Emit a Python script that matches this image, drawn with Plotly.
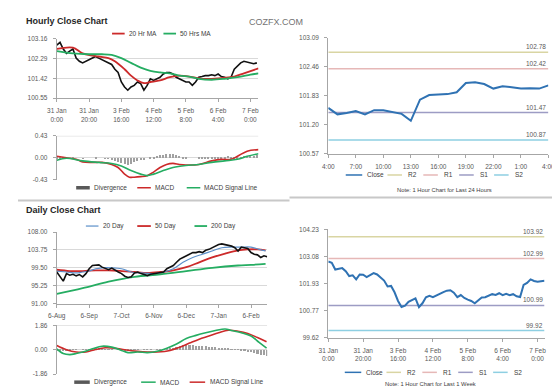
import plotly.graph_objects as go

W, H = 560, 386
FONT = "Liberation Sans, Arial, sans-serif"
TICK = "#595959"
GRID = "#d9d9d9"
AX = "#a6a6a6"

# ---------------- data: hourly (top-left) ----------------
hourly_ticks = [0, 20, 40, 60, 80, 100, 120]
hourly_labels = ["31 Jan<br>0:00", "31 Jan<br>20:00", "3 Feb<br>16:00", "4 Feb<br>12:00",
                 "5 Feb<br>8:00", "6 Feb<br>4:00", "7 Feb<br>0:00"]
hourly_hours = list(range(0, 125, 2))
hourly_close = [102.88, 103.00, 102.71, 102.52, 102.62, 102.71, 102.31, 102.17, 102.10, 102.17,
                102.24, 102.31, 102.38, 102.31, 102.24, 102.17, 102.10, 102.03, 101.82, 101.68,
                101.26, 101.04, 100.90, 101.04, 101.11, 101.26, 101.19, 100.90, 101.11, 101.40,
                101.33, 101.40, 101.47, 101.61, 101.68, 101.68, 101.61, 101.47, 101.40, 101.33,
                101.26, 101.26, 101.11, 101.26, 101.47, 101.50, 101.54, 101.54, 101.58, 101.54,
                101.61, 101.50, 101.47, 101.40, 101.47, 101.82, 101.96, 102.10, 102.17, 102.14,
                102.10, 102.06, 102.10]
ma20_hours = [0, 10, 16, 26, 32, 36, 42, 46, 50, 54, 58, 64, 70, 76, 84, 90, 96, 104, 110, 116, 125]
ma20_vals = [102.71, 102.77, 102.52, 102.38, 102.31, 102.17, 101.82, 101.54, 101.33, 101.21, 101.26,
             101.33, 101.47, 101.54, 101.47, 101.40, 101.40, 101.44, 101.50, 101.64, 101.86]
ma50_hours = [0, 10, 20, 28, 34, 40, 46, 52, 58, 64, 70, 76, 82, 88, 96, 104, 112, 120, 125]
ma50_vals = [102.62, 102.52, 102.48, 102.48, 102.45, 102.31, 102.10, 101.89, 101.75, 101.68, 101.64,
             101.54, 101.50, 101.40, 101.36, 101.40, 101.47, 101.58, 101.64]
hourly_yticks = [100.55, 101.42, 102.29, 103.16]

# hourly MACD
hmacd_hours = [0, 6, 12, 16, 22, 28, 34, 38, 42, 45, 48, 52, 56, 60, 64, 68, 72, 76, 80, 88, 96, 102,
               108, 112, 118, 125]
hmacd_vals = [0.03, 0.00, -0.03, -0.08, -0.09, -0.09, -0.13, -0.19, -0.32, -0.38, -0.38, -0.37, -0.35,
              -0.28, -0.19, -0.13, -0.11, -0.13, -0.14, -0.13, -0.06, -0.03, -0.03, 0.03, 0.13, 0.16]
hsig_hours = [0, 6, 16, 26, 34, 40, 46, 52, 56, 60, 66, 72, 80, 88, 96, 104, 112, 118, 125]
hsig_vals = [-0.05, -0.01, -0.06, -0.09, -0.11, -0.16, -0.25, -0.32, -0.35, -0.32, -0.25, -0.19,
             -0.15, -0.13, -0.09, -0.06, -0.03, 0.03, 0.08]
hdiv_vals = [0.03, 0.02, 0.01, 0.0, 0.0, 0.01, 0.0, 0.0, -0.01, 0.0, 0.0, 0.0, 0.01, 0.0, 0.0, -0.01,
             -0.01, -0.02, -0.05, -0.08, -0.10, -0.12, -0.13, -0.12, -0.08, -0.05, -0.04, -0.02,
             0.0, 0.02, 0.03, 0.05, 0.06, 0.07, 0.08, 0.09, 0.08, 0.06, 0.04, 0.02, 0.01,
             0.0, 0.0, 0.0, 0.01, 0.01, 0.02, 0.02, 0.02, 0.03, 0.03, 0.03, 0.03, 0.04, 0.02, 0.02,
             0.03, 0.03, 0.04, 0.04, 0.05, 0.05, 0.06]
hmacd_yticks = [-0.43, 0.00, 0.43]

# ---------------- data: last 24 hours (top-right) ----------------
day_ticks = [0, 3, 6, 9, 12, 15, 18, 21, 24]
day_labels = ["4:00", "7:00", "10:00", "13:00", "16:00", "19:00", "22:00", "1:00", "4:00"]
day_hours = list(range(0, 25))
day_close = [101.57, 101.43, 101.46, 101.50, 101.43, 101.52, 101.52, 101.48, 101.44, 101.29,
             101.75, 101.85, 101.86, 101.87, 101.91, 102.11, 102.13, 102.09, 101.99, 102.04,
             102.02, 101.99, 102.00, 101.99, 102.06]
day_levels = [102.78, 102.42, 101.47, 100.87]          # R2, R1, S1, S2
day_yticks = [100.57, 101.20, 101.83, 102.46, 103.09]

# ---------------- data: daily (bottom-left) ----------------
daily_ticks = [0, 10, 20, 30, 40, 50, 60]
daily_labels = ["6-Aug", "6-Sep", "7-Oct", "6-Nov", "6-Dec", "7-Jan", "6-Feb"]
daily_idx = list(range(0, 66))
daily_close = [98.49, 97.33, 96.30, 98.10, 97.72, 97.95, 97.57, 97.87, 97.33, 98.10,
               99.27, 100.04, 100.04, 100.19, 99.65, 99.27, 99.03, 99.42, 98.88, 98.49,
               98.10, 97.49, 97.18, 97.33, 98.26, 98.49, 98.10, 97.87, 97.64, 97.95,
               98.10, 98.26, 98.26, 98.49, 99.27, 99.65, 100.04, 100.81, 101.58, 101.97,
               102.36, 102.74, 103.13, 103.13, 103.36, 103.13, 103.67, 103.90, 104.29, 104.68,
               105.06, 105.22, 105.06, 104.91, 104.68, 104.29, 103.52, 104.44, 104.29, 104.13,
               103.13, 102.74, 102.59, 101.97, 102.36, 102.13]
d20_idx = [0, 3, 6, 8, 10, 12, 14, 17, 20, 23, 26, 30, 33, 36, 39, 42, 45, 48, 51, 54, 57, 60, 62.5, 64.5]
d20_vals = [98.72, 98.49, 98.26, 98.49, 98.72, 99.27, 99.50, 99.50, 99.27, 98.49, 98.26, 98.10, 98.49,
            99.27, 100.81, 101.97, 102.74, 103.52, 104.29, 104.44, 104.44, 104.44, 103.90, 103.52]
d50_idx = [0, 4, 8, 12, 16, 20, 24, 28, 32, 36, 40, 44, 48, 52, 56, 59, 62, 64.5]
d50_vals = [99.03, 98.72, 98.72, 98.88, 98.88, 98.72, 98.49, 98.26, 98.49, 98.88, 99.65, 100.81,
            101.97, 102.90, 103.67, 103.90, 103.90, 103.67]
d200_idx = [0, 8, 16, 24, 32, 40, 48, 56, 60, 64.5]
d200_vals = [93.24, 94.63, 96.17, 97.33, 97.95, 98.72, 99.50, 100.04, 100.19, 100.42]
daily_yticks = [91.00, 95.25, 99.50, 103.75, 108.00]

# daily MACD
dmacd_idx = [0, 2, 4, 6, 8, 11, 14, 17, 20, 22, 25, 28, 31, 34, 37, 40, 43, 46, 49, 52, 54, 57, 60, 62.5, 64.8]
dmacd_vals = [0.07, -0.29, -0.37, -0.29, -0.17, 0.07, 0.27, 0.20, -0.05, -0.22, -0.17, -0.22, -0.12,
              0.12, 0.44, 0.86, 1.10, 1.30, 1.47, 1.59, 1.47, 1.30, 1.05, 0.56, 0.12]
dsig_idx = [0, 3, 6, 9, 12, 15, 18, 21, 25, 28, 31, 35, 38, 41, 44, 47, 50, 53, 56, 59, 62, 64.8]
dsig_vals = [0.32, 0.00, -0.17, -0.17, 0.02, 0.15, 0.12, 0.00, -0.12, -0.17, -0.17, -0.05, 0.20, 0.51,
             0.81, 1.05, 1.30, 1.49, 1.42, 1.25, 0.93, 0.61]
ddiv_vals = [-0.05, -0.06, -0.08, -0.06, -0.05, -0.03, -0.02, 0.0, 0.01, 0.02, 0.03, 0.04, 0.05, 0.05,
             0.04, 0.03, 0.02, 0.01, 0.0, -0.02, -0.03, -0.04, -0.04, -0.03, -0.02, -0.01, 0.0, -0.01,
             -0.02, -0.01, 0.0, 0.01, 0.02, 0.04, 0.06, 0.10, 0.15, 0.22, 0.28, 0.32, 0.34, 0.33, 0.32,
             0.30, 0.28, 0.26, 0.24, 0.22, 0.20, 0.18, 0.15, 0.12, 0.10, 0.07, 0.04, 0.01, -0.03, -0.07,
             -0.11, -0.16, -0.21, -0.27, -0.33, -0.40, -0.45, -0.50]
dmacd_yticks = [-1.86, 0.00, 1.86]

# ---------------- data: last week (bottom-right) ----------------
week_hours = list(range(0, 125, 2))
week_close = [102.86, 102.81, 102.52, 102.55, 102.58, 102.45, 102.24, 102.27, 102.10, 102.31,
              102.30, 102.20, 102.30, 102.37, 102.31, 102.17, 102.05, 101.80, 101.82, 101.55,
              101.18, 100.92, 100.98, 101.14, 101.23, 101.29, 100.92, 101.08, 101.34, 101.40,
              101.34, 101.42, 101.50, 101.56, 101.62, 101.64, 101.53, 101.34, 101.43, 101.31,
              101.24, 101.18, 101.08, 101.22, 101.33, 101.34, 101.40, 101.47, 101.44, 101.51,
              101.43, 101.48, 101.43, 101.47, 101.38, 101.35, 101.86, 101.95, 102.10, 102.03,
              102.00, 102.02, 102.04]
week_levels = [103.92, 102.99, 100.99, 99.92]         # R2, R1, S1, S2
week_yticks = [99.62, 100.77, 101.93, 103.08, 104.23]

level_names = ["R2", "R1", "S1", "S2"]
level_colors = ["#d9d5a3", "#e6b8b7", "#9d9cc4", "#8ecfe2"]
CLOSE_BLUE = "#2f72b3"
RED = "#cc2a2a"
GREEN = "#25ad62"
BLUE20 = "#5b8fc9"


def fx(p):
    return p / W


def fy(p):
    return 1 - p / H


fig = go.Figure()

# top-left price
fig.add_trace(go.Scatter(x=hourly_hours, y=hourly_close, mode="lines", xaxis="x", yaxis="y",
                         line=dict(color="#111111", width=1.6), showlegend=False))
fig.add_trace(go.Scatter(x=ma20_hours, y=ma20_vals, mode="lines", xaxis="x", yaxis="y",
                         line=dict(color=RED, width=1.8, shape="spline"), showlegend=False))
fig.add_trace(go.Scatter(x=ma50_hours, y=ma50_vals, mode="lines", xaxis="x", yaxis="y",
                         line=dict(color=GREEN, width=1.8, shape="spline"), showlegend=False))
# top-left MACD
fig.add_trace(go.Bar(x=hourly_hours, y=hdiv_vals, xaxis="x2", yaxis="y2", width=0.9,
                     marker=dict(color="#a0a0a0", line=dict(width=0)), showlegend=False))
fig.add_trace(go.Scatter(x=hmacd_hours, y=hmacd_vals, mode="lines", xaxis="x2", yaxis="y2",
                         line=dict(color=RED, width=1.6, shape="spline"), showlegend=False))
fig.add_trace(go.Scatter(x=hsig_hours, y=hsig_vals, mode="lines", xaxis="x2", yaxis="y2",
                         line=dict(color=GREEN, width=1.6, shape="spline"), showlegend=False))
# top-right
for v, c in zip(day_levels, level_colors):
    fig.add_trace(go.Scatter(x=[day_hours[0], day_hours[-1]], y=[v, v], mode="lines", xaxis="x3",
                             yaxis="y3", line=dict(color=c, width=1.5), showlegend=False))
fig.add_trace(go.Scatter(x=day_hours, y=day_close, mode="lines", xaxis="x3", yaxis="y3",
                         line=dict(color=CLOSE_BLUE, width=2), showlegend=False))
# bottom-left price
fig.add_trace(go.Scatter(x=d200_idx, y=d200_vals, mode="lines", xaxis="x4", yaxis="y4",
                         line=dict(color=GREEN, width=1.8, shape="spline"), showlegend=False))
fig.add_trace(go.Scatter(x=d50_idx, y=d50_vals, mode="lines", xaxis="x4", yaxis="y4",
                         line=dict(color=RED, width=1.8, shape="spline"), showlegend=False))
fig.add_trace(go.Scatter(x=d20_idx, y=d20_vals, mode="lines", xaxis="x4", yaxis="y4",
                         line=dict(color=BLUE20, width=1.2, shape="spline"), showlegend=False))
fig.add_trace(go.Scatter(x=daily_idx, y=daily_close, mode="lines", xaxis="x4", yaxis="y4",
                         line=dict(color="#111111", width=1.6), showlegend=False))
# bottom-left MACD
fig.add_trace(go.Bar(x=daily_idx, y=ddiv_vals, xaxis="x5", yaxis="y5", width=0.5,
                     marker=dict(color="#a0a0a0", line=dict(width=0)), showlegend=False))
fig.add_trace(go.Scatter(x=dsig_idx, y=dsig_vals, mode="lines", xaxis="x5", yaxis="y5",
                         line=dict(color=RED, width=1.6, shape="spline"), showlegend=False))
fig.add_trace(go.Scatter(x=dmacd_idx, y=dmacd_vals, mode="lines", xaxis="x5", yaxis="y5",
                         line=dict(color=GREEN, width=1.6, shape="spline"), showlegend=False))
# bottom-right
for v, c in zip(week_levels, level_colors):
    fig.add_trace(go.Scatter(x=[week_hours[0], 124], y=[v, v], mode="lines", xaxis="x6",
                             yaxis="y6", line=dict(color=c, width=1.5), showlegend=False))
fig.add_trace(go.Scatter(x=week_hours, y=week_close, mode="lines", xaxis="x6", yaxis="y6",
                         line=dict(color=CLOSE_BLUE, width=2), showlegend=False))

tickfont = dict(size=6.5, color=TICK, family=FONT)


def xax(x0, x1, rng, anchor, tv=None, tt=None, show=True):
    d = dict(domain=[fx(x0), fx(x1)], range=rng, anchor=anchor, fixedrange=True,
             showgrid=False, zeroline=False, tickfont=tickfont)
    if show:
        d.update(showline=True, linecolor=AX, linewidth=1, ticks="outside", ticklen=3,
                 tickcolor=AX, tickvals=tv, ticktext=tt, ticklabelstandoff=3)
    else:
        d.update(showline=False, showticklabels=False, ticks="")
    return d


def yax(y0, y1, vals, anchor, grid=True, dec=2, zero=False):
    eps = (vals[-1] - vals[0]) * 0.004
    d = dict(domain=[fy(y1), fy(y0)], range=[vals[0] - eps, vals[-1] + eps], anchor=anchor,
             fixedrange=True, tickvals=vals, ticktext=[f"{v:.{dec}f}" for v in vals],
             tickfont=tickfont, showline=True, linecolor=AX, linewidth=1, ticks="outside",
             ticklen=3, tickcolor=AX, showgrid=grid, gridcolor=GRID, gridwidth=1,
             zeroline=zero, zerolinecolor=GRID, zerolinewidth=1, ticklabelstandoff=4)
    return d


fig.update_layout(
    width=W, height=H, autosize=False, margin=dict(l=0, r=0, t=0, b=0),
    paper_bgcolor="white", plot_bgcolor="white", bargap=0, showlegend=False,
    font=dict(family=FONT, color=TICK),
    xaxis=xax(40, 248, [0, 125], "y", hourly_ticks, hourly_labels),
    yaxis=yax(27, 88, hourly_yticks, "x"),
    xaxis2=xax(40, 248, [0, 125], "y2", show=False),
    yaxis2=yax(126, 171, hmacd_yticks, "x2", grid=False, zero=True),
    xaxis3=xax(320, 547, [0, 24], "y3", day_ticks, day_labels),
    yaxis3=yax(26, 145, day_yticks, "x3", grid=False),
    xaxis4=xax(40, 257, [0, 65], "y4", daily_ticks, daily_labels),
    yaxis4=yax(224, 297, daily_yticks, "x4"),
    xaxis5=xax(40, 257, [0, 65], "y5", show=False),
    yaxis5=yax(319, 369, dmacd_yticks, "x5", grid=False, zero=True),
    xaxis6=xax(320, 543, [0, 124], "y6", hourly_ticks, hourly_labels),
    yaxis6=yax(221, 332, week_yticks, "x6", grid=False),
)

# top gridline of MACD panels
fig.add_shape(type="line", xref="x2", yref="y2", x0=0, x1=125, y0=hmacd_yticks[-1], y1=hmacd_yticks[-1],
              line=dict(color=GRID, width=1))
fig.add_shape(type="line", xref="x5", yref="y5", x0=0, x1=65, y0=dmacd_yticks[-1], y1=dmacd_yticks[-1],
              line=dict(color=GRID, width=1))

# level value labels
for v in day_levels:
    fig.add_annotation(x=24, y=v, xref="x3", yref="y3", text=f"{v:.2f}", showarrow=False,
                       xanchor="right", yanchor="bottom", font=dict(size=6.5, color=TICK, family=FONT))
for v in week_levels:
    fig.add_annotation(x=124, y=v, xref="x6", yref="y6", text=f"{v:.2f}", showarrow=False,
                       xanchor="right", yanchor="bottom", font=dict(size=6.5, color=TICK, family=FONT))


def text(xp, yp, s, size=6.5, color="#404040", anchor="left", bold=False):
    fig.add_annotation(x=fx(xp), y=fy(yp), xref="paper", yref="paper", text=s, showarrow=False,
                       xanchor=anchor, yanchor="middle",
                       font=dict(size=size, color=color, family=FONT, weight="bold" if bold else "normal"))


def leg(x0, x1, yp, color, width, label, tx):
    fig.add_shape(type="line", xref="paper", yref="paper", x0=fx(x0), x1=fx(x1), y0=fy(yp), y1=fy(yp),
                  line=dict(color=color, width=width))
    text(tx, yp, label)


# titles
text(6, 9, "Hourly Close Chart", size=9, color="#262626", bold=True)
text(6, 202, "Daily Close Chart", size=9, color="#262626", bold=True)
text(236, 10, "COZFX.COM", size=9, color="#737373")

# legends
leg(97, 110, 22, RED, 1.8, "20 Hr MA", 112)
leg(150, 163, 22, GREEN, 1.8, "50 Hrs MA", 165)
leg(60, 74, 179, "#595959", 3.5, "Divergence", 76)
leg(123, 137, 179, RED, 1.5, "MACD", 139)
leg(174, 188, 179, GREEN, 1.5, "MACD Signal Line", 190)

leg(70, 83, 218, BLUE20, 1.2, "20 Day", 86)
leg(123, 137, 218, RED, 1.8, "50 Day", 139)
leg(182, 195, 218, GREEN, 1.8, "200 Day", 197)
leg(58, 74, 377, "#595959", 3.5, "Divergence", 76)
leg(127, 142, 377, GREEN, 1.5, "MACD", 144)
leg(177, 193, 377, RED, 1.5, "MACD Signal Line", 196)

rx = [(338, 355, 358), (381, 396, 400), (418, 433, 437), (455, 470, 474), (491, 506, 510)]
names = ["Close"] + level_names
cols = [CLOSE_BLUE] + level_colors
for (a, b, t), n, c in zip(rx, names, cols):
    leg(a, b, 166, c, 1.5, n, t)
    leg(a - 1, b - 1, 367, c, 1.5, n, t - 1)
text(440, 181, "Note: 1 Hour Chart for Last 24 Hours", size=5.8, anchor="center")
text(425, 379, "Note: 1 Hour Chart for Last 1 Week", size=5.8, anchor="center")

# separators
for x0, x1, yp in [(0, 280, 192), (280, 560, 189), (0, 560, 384)]:
    fig.add_shape(type="line", xref="paper", yref="paper", x0=fx(x0), x1=fx(x1), y0=fy(yp), y1=fy(yp),
                  line=dict(color="#c8c8c8", width=2))

fig.write_html("out.html")
